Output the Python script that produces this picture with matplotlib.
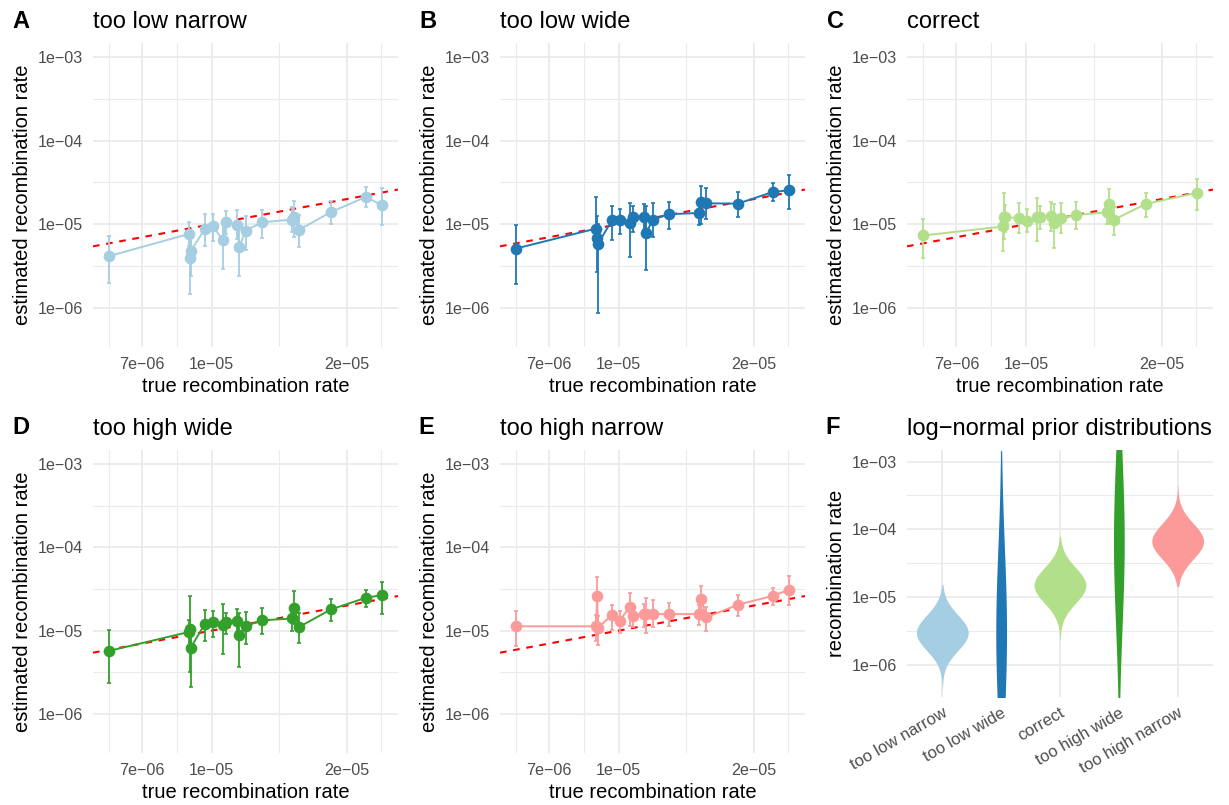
import matplotlib.pyplot as plt
import numpy as np
from matplotlib.ticker import FixedLocator, FixedFormatter, NullFormatter

plt.rcParams['font.family'] = ['Liberation Sans', 'DejaVu Sans']

# true recombination rate of each simulated data set (units of 1e-5)
true_rate = [0.590, 0.890, 0.895, 0.898, 0.966, 1.005, 1.058, 1.076, 1.137,
             1.151, 1.193, 1.293, 1.513, 1.528, 1.565, 1.845, 2.205, 2.393]

# estimated rate, lower and upper bound per prior scenario (units of 1e-5)
est_a = [0.415, 0.766, 0.396, 0.476, 0.887, 0.955, 0.650, 1.066, 0.990,
         0.541, 0.840, 1.056, 1.137, 1.213, 0.855, 1.400, 2.12, 1.70]
lo_a = [0.199, 0.556, 0.147, 0.243, 0.556, 0.638, 0.290, 0.766, 0.668,
        0.243, 0.498, 0.680, 0.80, 0.700, 0.530, 1.00, 1.60, 0.99]
hi_a = [0.72, 1.06, 0.62, 0.75, 1.31, 1.32, 1.106, 1.43, 1.50,
        1.00, 1.27, 1.50, 1.60, 1.92, 1.29, 1.92, 2.77, 2.72]

est_b = [0.512, 0.887, 0.693, 0.577, 1.116, 1.137, 1.037, 1.224, 1.224,
         0.795, 1.137, 1.317, 1.365, 1.85, 1.78, 1.766, 2.43, 2.55]
lo_b = [0.195, 0.64, 0.269, 0.0855, 0.656, 0.773, 0.407, 0.80, 0.85,
        0.282, 0.706, 0.871, 0.973, 1.00, 1.15, 1.224, 1.92, 1.54]
hi_b = [0.97, 2.12, 1.25, 1.02, 1.66, 1.51, 1.81, 1.65, 1.77,
        1.64, 1.81, 1.83, 1.95, 2.87, 2.70, 2.41, 3.09, 3.89]

est_c = [0.733, 0.94, 1.21, 1.21, 1.19, 1.106, 1.21, 1.21, 1.27,
         1.028, 1.19, 1.29, 1.39, 1.75, 1.13, 1.75, np.nan, 2.37]
lo_c = [0.393, 0.475, 0.67, 0.80, 0.78, 0.80, 0.638, 0.88, 0.84,
        0.52, 0.78, 0.87, 1.00, 1.00, 0.733, 1.21, np.nan, 1.50]
hi_c = [1.16, 1.35, 2.34, 1.70, 1.78, 1.52, 2.07, 1.67, 1.83,
        1.75, 1.80, 1.83, 1.85, 2.64, 1.63, 2.34, np.nan, 3.48]

est_d = [0.571, 0.964, 1.037, 0.627, 1.21, 1.27, 1.17, 1.27, 1.305,
         0.88, 1.137, 1.33, 1.40, 1.88, 1.106, 1.80, 2.48, 2.67]
lo_d = [0.234, 0.656, 0.315, 0.208, 0.75, 0.848, 0.52, 0.90, 0.95,
        0.368, 0.687, 0.904, 1.00, 1.20, 0.719, 1.31, 1.94, 1.60]
hi_d = [1.02, 1.36, 2.64, 1.04, 1.77, 1.72, 2.07, 1.64, 1.83,
        1.64, 1.69, 1.85, 1.95, 2.98, 1.64, 2.43, 3.12, 3.82]

est_e = [1.127, 1.127, 2.62, 1.076, 1.55, 1.318, 1.92, 1.51, 1.58,
         1.58, 1.58, 1.58, 1.58, 2.41, 1.44, 2.05, 2.62, 3.09]
lo_e = [0.662, 0.746, 1.55, 0.668, 1.03, 0.938, 1.13, 1.10, 1.10,
        0.94, 1.10, 1.13, 1.18, 1.78, 0.98, 1.51, 2.05, 2.05]
hi_e = [1.70, 1.55, 4.46, 1.50, 2.05, 1.70, 2.82, 2.03, 2.10,
        2.46, 2.31, 2.14, 2.04, 3.39, 1.94, 2.69, 3.29, 4.50]

tags = ['A', 'B', 'C', 'D', 'E']
scenarios = ['too low narrow', 'too low wide', 'correct', 'too high wide', 'too high narrow']
colors = ['#A6CEE3', '#1F78B4', '#B2DF8A', '#33A02C', '#FB9A99']

# log-normal priors: median, sd and sampled range (both in log10 units)
prior_median = [3.0e-6, 3.0e-6, 1.5e-5, 6.7e-5, 6.7e-5]
prior_sd = [0.26, 1.25, 0.26, 1.25, 0.26]
prior_lo = [-6.36, -7.20, -5.63, -6.50, -4.84]
prior_hi = [-4.81, -2.84, -4.10, -2.00, -3.36]

x_ticks = [7e-6, 1e-5, 2e-5]
x_tick_labels = ['7e\u221206', '1e\u221205', '2e\u221205']
x_minor = [5.9e-6, 8.37e-6, 1.414e-5, 2.385e-5]
y_ticks = [1e-6, 1e-5, 1e-4, 1e-3]
y_tick_labels = ['1e\u221206', '1e\u221205', '1e\u221204', '1e\u221203']
y_minor = [10 ** -5.5, 10 ** -4.5, 10 ** -3.5]
x_lim = (5.435e-6, 2.602e-5)
y_lim = (10 ** -6.47, 10 ** -2.83)

W, H = 1229, 805
fig = plt.figure(figsize=(W / 100, H / 100), dpi=100)
grid_col = '#EBEBEB'
tick_col = '#4D4D4D'


def add_panel(left, top, right, bottom):
    return fig.add_axes([left / W, 1 - bottom / H, (right - left) / W, (bottom - top) / H])


def style(ax):
    for s in ax.spines.values():
        s.set_visible(False)
    ax.tick_params(which='both', length=0, labelsize=11.6, labelcolor=tick_col, pad=7)
    ax.grid(which='major', color=grid_col, lw=1.3)
    ax.grid(which='minor', color=grid_col, lw=0.8)
    ax.set_axisbelow(True)
    ax.set_yscale('log')
    ax.set_ylim(*y_lim)
    ax.yaxis.set_major_locator(FixedLocator(y_ticks))
    ax.yaxis.set_major_formatter(FixedFormatter(y_tick_labels))
    ax.yaxis.set_minor_locator(FixedLocator(y_minor))
    ax.yaxis.set_minor_formatter(NullFormatter())


boxes = [(93, 43, 398, 347), (500, 43, 805, 347), (907, 43, 1213, 347),
         (93, 450, 398, 753), (500, 450, 805, 753)]
tag_pos = [(12, 28), (419, 28), (827, 28), (12, 434), (418, 434)]
series = [(est_a, lo_a, hi_a), (est_b, lo_b, hi_b), (est_c, lo_c, hi_c),
          (est_d, lo_d, hi_d), (est_e, lo_e, hi_e)]

x = np.array(true_rate) * 1e-5
for i, (est, lo, hi) in enumerate(series):
    ax = add_panel(*boxes[i])
    style(ax)
    ax.set_xscale('log')
    ax.set_xlim(*x_lim)
    ax.xaxis.set_major_locator(FixedLocator(x_ticks))
    ax.xaxis.set_major_formatter(FixedFormatter(x_tick_labels))
    ax.xaxis.set_minor_locator(FixedLocator(x_minor))
    ax.xaxis.set_minor_formatter(NullFormatter())

    est = np.array(est) * 1e-5
    lo = np.array(lo) * 1e-5
    hi = np.array(hi) * 1e-5
    ok = ~np.isnan(est)
    xs, ys = x[ok], est[ok]

    ax.plot(x_lim, x_lim, color='red', lw=1.5, dashes=(3.2, 3.2), zorder=2)
    ax.errorbar(xs, ys, yerr=[ys - lo[ok], hi[ok] - ys], fmt='none',
                ecolor=colors[i], elinewidth=1.3, capsize=1.7, capthick=1.2, zorder=3)
    ax.plot(xs, ys, color=colors[i], lw=1.4, zorder=3)
    ax.plot(xs, ys, 'o', color=colors[i], ms=8.4, mew=0, zorder=4)

    ax.set_title(scenarios[i], loc='left', fontsize=17, pad=11)
    ax.set_xlabel('true recombination rate', fontsize=14.5)
    ax.set_ylabel('estimated recombination rate', fontsize=14.5)
    ax.xaxis.set_label_coords(0.5, -0.1)
    ax.yaxis.set_label_coords(-0.2, 0.5)
    fig.text(tag_pos[i][0] / W, 1 - tag_pos[i][1] / H, tags[i], fontsize=17,
             fontweight='bold', va='baseline')

# panel F: prior distributions as violins
ax = add_panel(907, 450, 1213, 697)
style(ax)
pos = np.arange(1, len(scenarios) + 1)
ax.set_xlim(0.4, 5.6)
ax.set_xticks(pos)
ax.set_xticklabels(scenarios)
ax.grid(which='minor', axis='x', visible=False)
plt.setp(ax.get_xticklabels(), rotation=30, ha='right', va='top', rotation_mode='anchor',
         fontsize=12)
ax.tick_params(axis='x', pad=6)
min_sd = min(prior_sd)
for i in range(len(scenarios)):
    mu = np.log10(prior_median[i])
    yy = np.linspace(prior_lo[i], prior_hi[i], 400)
    half = 0.44 * min_sd / prior_sd[i]
    w = half * np.exp(-0.5 * ((yy - mu) / prior_sd[i]) ** 2)
    ax.fill_betweenx(10 ** yy, pos[i] - w, pos[i] + w, color=colors[i], lw=0, zorder=3)
ax.set_title('log\u2212normal prior distributions', loc='left', fontsize=17, pad=11)
ax.set_ylabel('recombination rate', fontsize=14.5)
ax.yaxis.set_label_coords(-0.2, 0.5)
fig.text(825 / W, 1 - 434 / H, 'F', fontsize=17, fontweight='bold', va='baseline')

fig.savefig('out.png', dpi=100, facecolor='white')
